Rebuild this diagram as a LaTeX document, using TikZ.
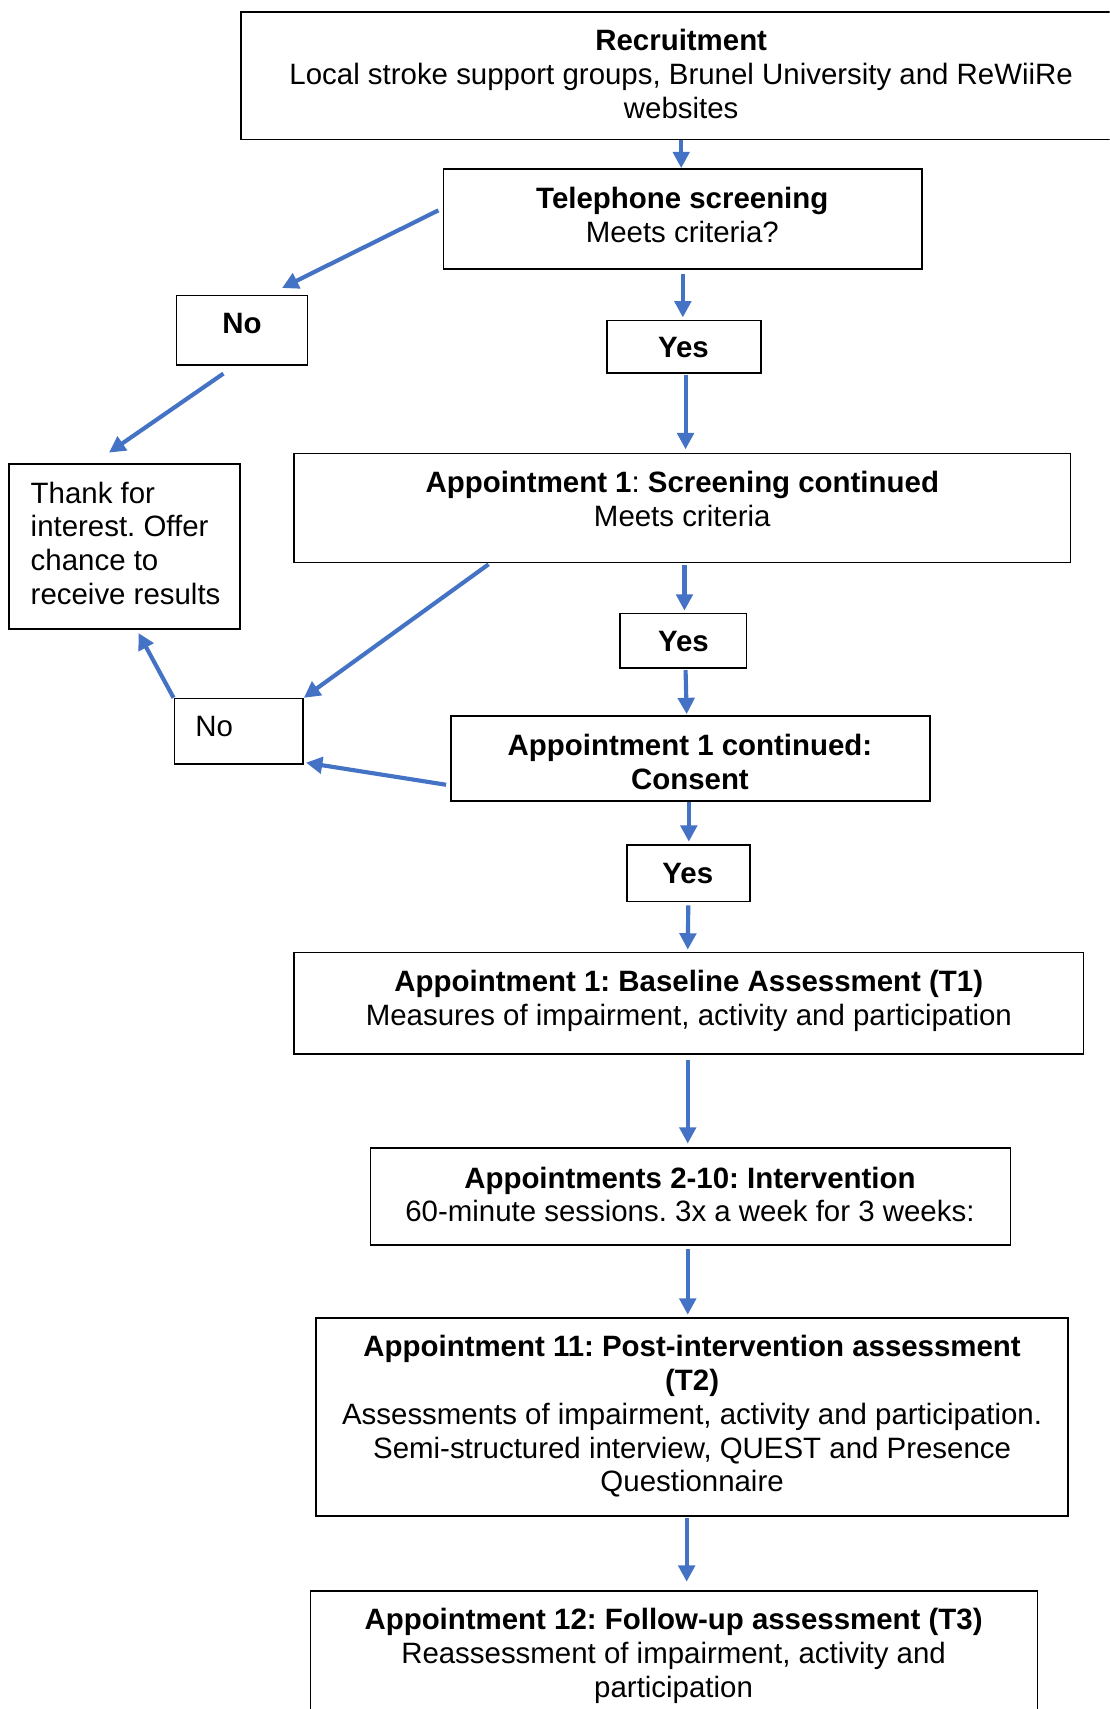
\documentclass[tikz,border=0pt]{standalone}
\usepackage{fontspec}
\setmainfont{Liberation Sans}
\usetikzlibrary{arrows.meta}
\definecolor{flowblue}{HTML}{4472C4}
\frenchspacing
\tikzset{
  box/.style={draw=black, line width=1.5pt, inner sep=0pt, fill=none},
  txt/.style={inner sep=0pt, align=center, font=\fontsize{27pt}{31pt}\selectfont},
  ltxt/.style={inner sep=0pt, align=left, anchor=west, font=\fontsize{27pt}{31pt}\selectfont},
  arr/.style={draw=flowblue, line width=3.8pt, -{Triangle[length=15pt,width=15pt]}, flowblue},
}
\begin{document}
\begin{tikzpicture}[x=1pt, y=-1pt]
\clip (0,0) rectangle (1018,1568);
\fill[white] (0,0) rectangle (1018,1568);

% boxes
\node[box, minimum width=808pt, minimum height=117pt] (rec) at (625,69.5) {};
\node[box, minimum width=439pt, minimum height=92pt] (tel) at (626.5,201) {};
\node[box, minimum width=120pt, minimum height=64pt] (no1) at (222,303) {};
\node[box, minimum width=141pt, minimum height=48pt] (yes1) at (627.5,318) {};
\node[box, minimum width=212pt, minimum height=151pt] (thank) at (114,501.5) {};
\node[box, minimum width=712pt, minimum height=100pt] (app1) at (626,466) {};
\node[box, minimum width=116pt, minimum height=50pt] (yes2) at (627,588) {};
\node[box, minimum width=118pt, minimum height=60pt] (no2) at (219,671) {};
\node[box, minimum width=439pt, minimum height=78pt] (cons) at (633.5,696) {};
\node[box, minimum width=113pt, minimum height=52pt] (yes3) at (631.5,801) {};
\node[box, minimum width=724pt, minimum height=93pt] (base) at (632,920.5) {};
\node[box, minimum width=587pt, minimum height=89pt] (int) at (633.5,1097.5) {};
\node[box, minimum width=690pt, minimum height=182pt] (app11) at (635,1300) {};
\node[box, minimum width=667pt, minimum height=130pt] (app12) at (618.5,1525) {};

% texts
\node[txt] (recT) at (625,68) {\textbf{Recruitment}\\Local stroke support groups, Brunel University and ReWiiRe\\websites};
\node[txt] (telT) at (626,197.5) {\textbf{Telephone screening}\\Meets criteria?};
\node[txt] (no1T) at (222,297) {\textbf{No}};
\node[txt] (yes1T) at (627,319) {\textbf{Yes}};
\node[ltxt] (thankT) at (28,498.5) {Thank for\\interest. Offer\\chance to\\receive results};
\node[txt] (app1T) at (626,458) {\textbf{Appointment 1}: \textbf{Screening continued}\\Meets criteria};
\node[txt] (yes2T) at (627,589) {\textbf{Yes}};
\node[ltxt] (no2T) at (179,667) {No};
\node[txt] (consT) at (633,699) {\textbf{Appointment 1 continued:}\\\textbf{Consent}};
\node[txt] (yes3T) at (631,801) {\textbf{Yes}};
\node[txt] (baseT) at (632,918) {\textbf{Appointment 1: Baseline Assessment (T1)}\\Measures of impairment, activity and participation};
\node[txt] (intT) at (633,1096) {\textbf{Appointments 2-10: Intervention}\\60-minute sessions. 3x a week for 3 weeks:};
\node[txt] (app11T) at (635,1299.5) {\textbf{Appointment 11: Post-intervention assessment}\\\textbf{(T2)}\\Assessments of impairment, activity and participation.\\Semi-structured interview, QUEST and Presence\\Questionnaire};
\node[txt] (app12T) at (618,1519) {\textbf{Appointment 12: Follow-up assessment (T3)}\\Reassessment of impairment, activity and\\participation};

% main flow
\draw[arr] (rec.south) -- (rec.south |- tel.north);
\draw[arr] ([yshift=-4pt]tel.south) -- ([yshift=2pt]tel.south |- yes1.north);
\draw[arr] ([xshift=1.5pt,yshift=-1pt]yes1.south) -- ([xshift=3pt,yshift=3pt]app1.north);
\draw[arr] ([xshift=2pt,yshift=-2pt]app1.south) -- ([xshift=2pt,yshift=2pt]app1.south |- yes2.north);
\draw[arr] ([xshift=2pt,yshift=-1pt]yes2.south) -- ([xshift=-3.5pt,yshift=1pt]cons.north);
\draw[arr] ([xshift=-1.5pt]cons.south) -- ([xshift=-1.5pt,yshift=2pt]cons.south |- yes3.north);
\draw[arr] ([yshift=-3pt]yes3.south) -- ([xshift=-0.5pt,yshift=2pt]yes3.south |- base.north);
\draw[arr] ([xshift=-1pt,yshift=-5pt]base.south) -- ([xshift=-1pt,yshift=3pt]base.south |- int.north);
\draw[arr] ([xshift=-2.5pt,yshift=-3pt]int.south) -- ([xshift=-2.5pt,yshift=2pt]int.south |- app11.north);
\draw[arr] ([xshift=-5pt,yshift=-1pt]app11.south) -- ([xshift=-5pt,yshift=8pt]app11.south |- app12.north);

% exits
\draw[arr] ([xshift=-4pt,yshift=8pt]tel.west) -- ([xshift=-24pt,yshift=6pt]no1.north east);
\draw[arr] ([xshift=-17pt,yshift=-7pt]no1.south) -- ([xshift=-14pt,yshift=10pt]thank.north);
\draw[arr] ([xshift=179pt,yshift=-1pt]app1.south west) -- (no2.north east);
\draw[arr] (no2.north west) -- ([xshift=13pt,yshift=-3pt]thank.south);
\draw[arr] ([xshift=-4pt,yshift=-24pt]cons.west) -- ([xshift=2pt,yshift=2pt]no2.south east);
\end{tikzpicture}
\end{document}
